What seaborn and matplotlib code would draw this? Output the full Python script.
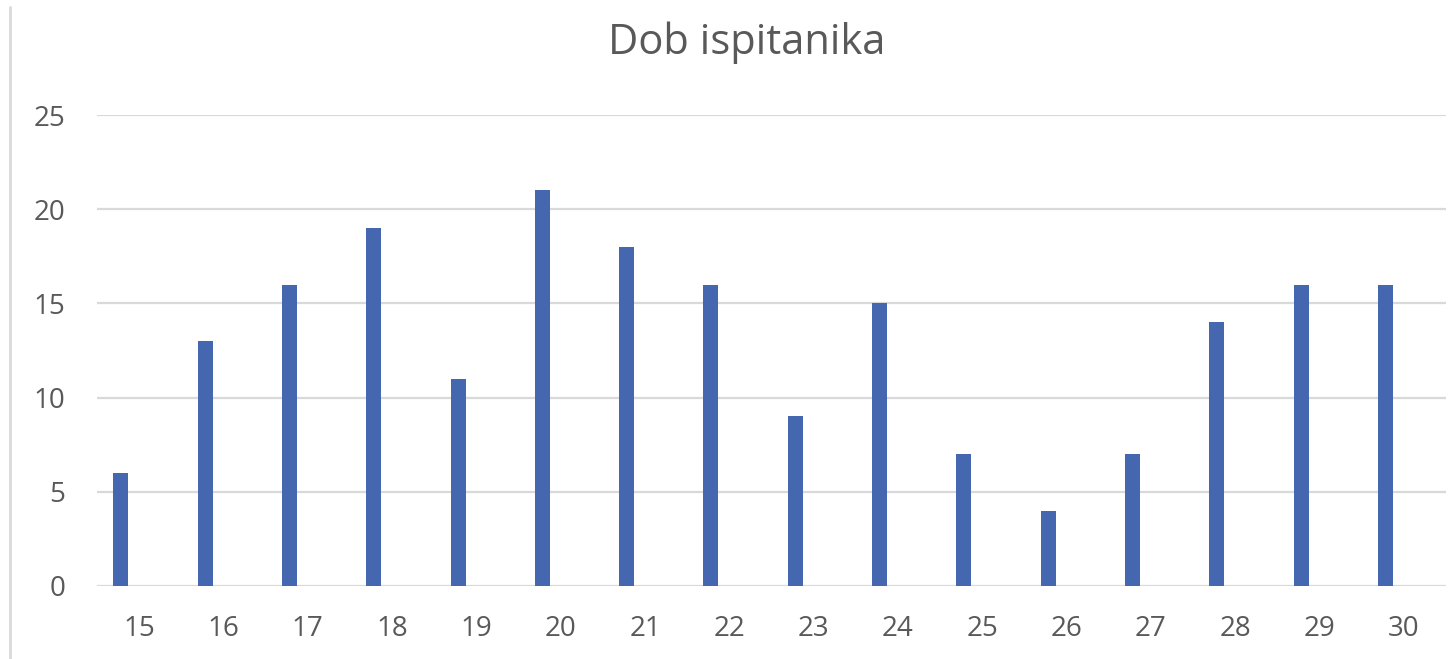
import matplotlib
matplotlib.use("Agg")
import matplotlib.pyplot as plt
import seaborn as sns
import pandas as pd
from matplotlib.lines import Line2D

ages = [15, 16, 17, 18, 19, 20, 21, 22, 23, 24, 25, 26, 27, 28, 29, 30]
counts = [6, 13, 16, 19, 11, 21, 18, 16, 9, 15, 7, 4, 7, 14, 16, 16]
y_ticks = [0, 5, 10, 15, 20, 25]
title = "Dob ispitanika"

sns.set_theme(style="white")
plt.rcParams['font.family'] = ['Open Sans', 'DejaVu Sans']
text_color = "#595959"

df = pd.DataFrame({"age": [str(a) for a in ages], "count": counts})

fig = plt.figure(figsize=(14.54, 6.59), dpi=100)
ax = fig.add_axes([97/1454, 73/659, (1446-97)/1454, (586-115)/659])

sns.barplot(data=df, x="age", y="count", color="#4467B0", saturation=1,
            width=0.178, ax=ax, edgecolor="none")

# bars sit left of the category centre (Excel clustered layout)
offset = 0.218
ax.set_xlim(-0.282, len(ages) - 0.282)
ax.set_xticks([i + offset for i in range(len(ages))])
ax.set_xticklabels([str(a) for a in ages])
ax.set_ylim(0, 25)
ax.set_yticks(y_ticks)
ax.yaxis.grid(True, color="#D9D9D9", linewidth=1.6)
ax.set_axisbelow(True)
for s in ax.spines.values():
    s.set_visible(False)
ax.tick_params(axis="both", length=0, labelsize=20, colors=text_color)
ax.tick_params(axis="x", pad=21)
ax.tick_params(axis="y", pad=23)
ax.set_xlabel("")
ax.set_ylabel("")

fig.text(747/1454, 1 - 43/659, title, ha="center", va="center",
         fontsize=30, color=text_color)

# left border of the cropped chart area
fig.add_artist(Line2D([10/1454, 10/1454], [0, 1 - 7/659], color="#D9D9D9",
                      linewidth=2, transform=fig.transFigure))

fig.savefig("out.png", dpi=100)
